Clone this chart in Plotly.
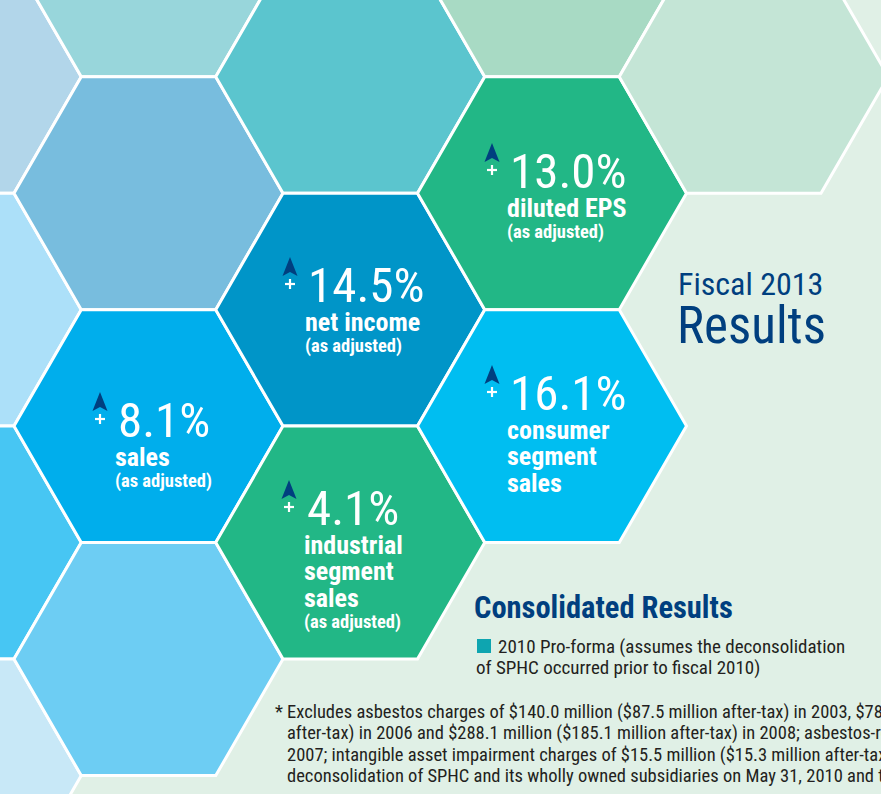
import math
import plotly.graph_objects as go

# ---------------- data ----------------
metric_values = [8.1, 14.5, 13.0, 16.1, 4.1]
metric_labels = [
    ["sales"],
    ["net income"],
    ["diluted EPS"],
    ["consumer", "segment", "sales"],
    ["industrial", "segment", "sales"],
]
metric_notes = ["(as adjusted)", "(as adjusted)", "(as adjusted)", "", "(as adjusted)"]

# honeycomb cells: column, row, colour
hex_cols = [-1, -1, -1, -1, 0, 0, 0, 0, 1, 1, 1, 2, 2, 2, 3]
hex_rows = [0, 1, 2, 3, 0, 1, 2, 3, 0, 1, 2, 0, 1, 2, 0]
hex_colors = ["#B2D6EA", "#ACE0F9", "#47C6F3", "#C8E8F7",
              "#98D6DB", "#78BDDE", "#00AEEC", "#6DCDF3",
              "#5BC5CE", "#0095C8", "#22B786",
              "#A8DAC4", "#22B786", "#00BEF1",
              "#C4E5D6"]

title_line1 = "Fiscal 2013"
title_line2 = "Results"
section_title = "Consolidated Results"
legend_lines = ["2010 Pro-forma (assumes the deconsolidation",
                "of SPHC occurred prior to fiscal 2010)"]
footnote_lines = [
    "Excludes asbestos charges of $140.0 million ($87.5 million after-tax) in 2003, $78.0 million ($48.8 million after-tax) in 2004,",
    "after-tax) in 2006 and $288.1 million ($185.1 million after-tax) in 2008; asbestos-related insurance recoveries in",
    "2007; intangible asset impairment charges of $15.5 million ($15.3 million after-tax) in 2009; and the gain on",
    "deconsolidation of SPHC and its wholly owned subsidiaries on May 31, 2010 and the related",
]

# ---------------- layout / style ----------------
W, H = 881, 794
BG = "#E0F0E6"
NAVY = "#003F7F"
NARROW = ("Roboto Condensed, Archivo Narrow, PT Sans Narrow, Barlow Semi Condensed, "
          "Liberation Sans Narrow, DejaVu Sans Condensed, sans-serif")

R = 134.5
COL_DX = 1.5 * R
ROW_DY = math.sqrt(3) * R
X0, Y0 = 148.5, -39.8

# position of the big number (left x, baseline y) in each highlighted hexagon
metric_pos = [(116, 438), (306, 303), (508, 189), (508, 411), (305, 526)]

fig = go.Figure()
shapes = []
annotations = []

for c, r, col in zip(hex_cols, hex_rows, hex_colors):
    cx = X0 + c * COL_DX
    cy = Y0 + r * ROW_DY + (ROW_DY / 2 if c % 2 else 0)
    pts = [(cx + R * math.cos(math.radians(a)), cy + R * math.sin(math.radians(a)))
           for a in range(0, 360, 60)]
    path = "M " + " L ".join(f"{x:.2f},{y:.2f}" for x, y in pts) + " Z"
    shapes.append(dict(type="path", path=path, xref="x", yref="y",
                       fillcolor=col, line=dict(color="white", width=3), layer="below"))


def txt(x, base, text, size, color="white", weight="normal", family=NARROW):
    annotations.append(dict(
        x=x, y=base - 0.35 * size, xref="x", yref="y", text=text, showarrow=False,
        xanchor="left", yanchor="middle", align="left",
        font=dict(size=size, color=color, family=family, weight=weight),
    ))


for v, labels, note, (nx, nb) in zip(metric_values, metric_labels, metric_notes, metric_pos):
    # arrow
    ax, ay = nx - 16, nb - 46
    shapes.append(dict(type="path", xref="x", yref="y",
                       path=f"M {ax},{ay} L {ax+7.5},{ay+19} L {ax},{ay+15} L {ax-7.5},{ay+19} Z",
                       fillcolor=NAVY, line=dict(width=0)))
    # plus sign
    py = nb - 19
    shapes.append(dict(type="line", xref="x", yref="y", x0=ax - 5, x1=ax + 5, y0=py, y1=py,
                       line=dict(color="white", width=2.2)))
    shapes.append(dict(type="line", xref="x", yref="y", x0=ax, x1=ax, y0=py - 5, y1=py + 5,
                       line=dict(color="white", width=2.2)))
    txt(nx, nb, f"{v:.1f}%", 49, weight=400)
    b = nb
    for i, lab in enumerate(labels):
        b += 28 if i == 0 else 26.5
        txt(nx - 3, b, lab, 26, weight="bold")
    if note:
        b += 21
        txt(nx - 3, b, note, 18.5, weight="bold")

# title
txt(676, 295, title_line1, 32, color=NAVY)
txt(675, 343, title_line2, 51, color=NAVY)

# consolidated results
txt(472, 618, section_title, 30.5, color=NAVY, weight="bold")
shapes.append(dict(type="rect", xref="x", yref="y", x0=477, x1=491, y0=639, y1=653,
                   fillcolor="#0EA5B0", line=dict(width=0)))
txt(496, 653, legend_lines[0], 19, color="#231F20")
txt(474, 674, legend_lines[1], 19, color="#231F20")

# footnote
txt(273, 718, "*", 18.5, color="#231F20")
for i, line in enumerate(footnote_lines):
    txt(285, 718 + i * 21.5, line, 18.5, color="#231F20")

fig.update_layout(
    width=W, height=H,
    margin=dict(l=0, r=0, t=0, b=0),
    paper_bgcolor=BG, plot_bgcolor=BG,
    xaxis=dict(range=[0, W], visible=False, fixedrange=True),
    yaxis=dict(range=[H, 0], visible=False, fixedrange=True),
    shapes=shapes, annotations=annotations,
    showlegend=False,
)

fig.write_html("out.html", config={"displayModeBar": False},
               post_script="document.body.style.margin='0';document.body.style.overflow='hidden';")
